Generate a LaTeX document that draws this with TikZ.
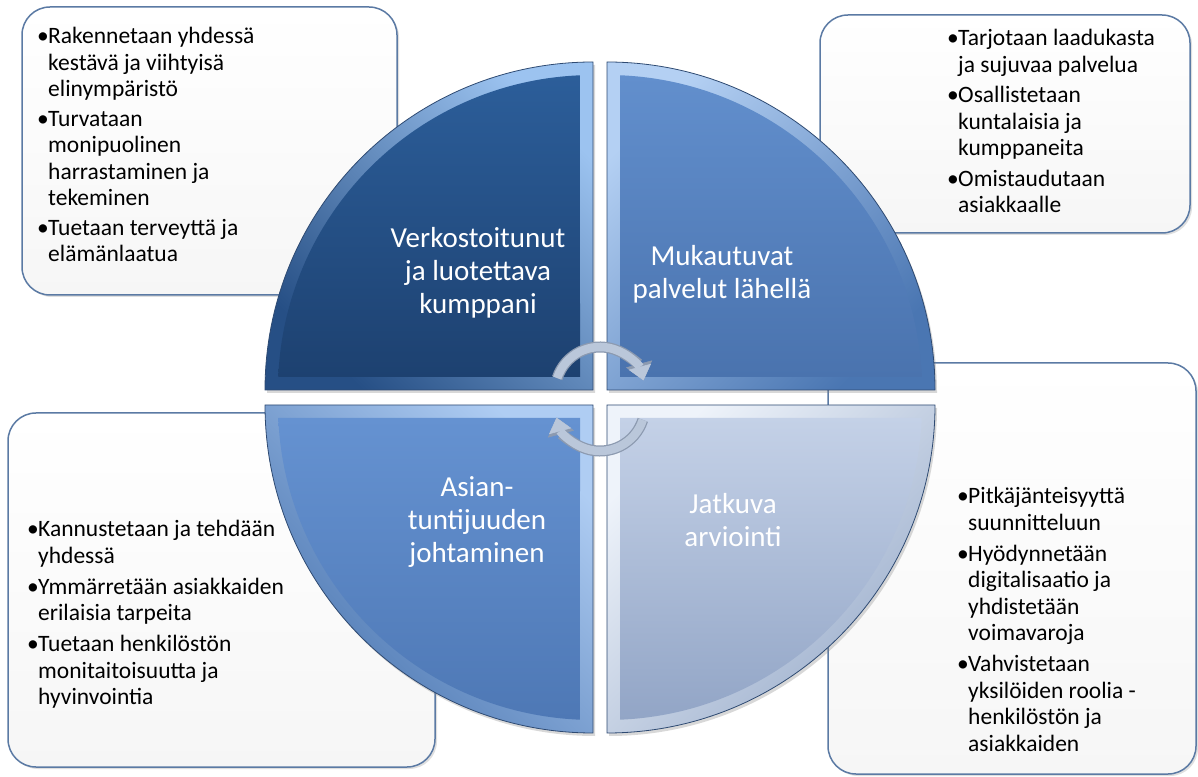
\documentclass[tikz,border=0pt]{standalone}
\usepackage{fontspec}
\setmainfont{Carlito}
\usepackage{tikz}
\usetikzlibrary{arrows.meta,shadows}

\definecolor{boxedge}{HTML}{5B7AA4}
\definecolor{qaTop}{HTML}{2C5E9A}
\definecolor{qaBot}{HTML}{1D4170}
\definecolor{qaLight}{HTML}{9CC3F0}
\definecolor{qaDark}{HTML}{264F85}
\definecolor{qbTop}{HTML}{628FCD}
\definecolor{qbBot}{HTML}{4A73AE}
\definecolor{qbLight}{HTML}{B4D0F3}
\definecolor{qbDark}{HTML}{4A76B2}
\definecolor{qcTop}{HTML}{6592D1}
\definecolor{qcBot}{HTML}{4E78B5}
\definecolor{qcLight}{HTML}{AFCDF3}
\definecolor{qcDark}{HTML}{4A75B0}
\definecolor{qdTop}{HTML}{C4D1E7}
\definecolor{qdBot}{HTML}{92A5C6}
\definecolor{qdLight}{HTML}{EEF3FA}
\definecolor{qdDark}{HTML}{9AADCB}
\definecolor{quadline}{HTML}{2E4A72}
\definecolor{arrowfill}{HTML}{BAC7DA}
\definecolor{arrowline}{HTML}{8C9AB0}

\newcommand{\bul}{\makebox[11pt][l]{•}}
\newcommand{\ind}{\hspace*{11pt}}

\begin{document}
\begin{tikzpicture}[x=1pt,y=1pt,
    infobox/.style={draw=boxedge, line width=1.5pt, rounded corners=28pt, top color=white, bottom color=gray!7, drop shadow={opacity=0.25, shadow xshift=2pt, shadow yshift=-2pt}, inner sep=0},
    boxtext/.style={align=left, inner sep=0, anchor=north west, font=\fontsize{23.5}{26.5}\selectfont},
    quadtext/.style={align=center, inner sep=0, text=white, font=\fontsize{29}{33}\selectfont},
    bevel/.style={draw=quadline, line width=0.8pt, drop shadow={opacity=0.3, shadow xshift=2pt, shadow yshift=-3pt}},
    arrowedge/.style={draw=arrowline, line width=11pt, -{Triangle[width=27pt,length=17pt,line width=0.5pt]}},
    arrowbody/.style={draw=arrowfill, line width=8.5pt, -{Triangle[width=23pt,length=14pt,line width=0.5pt]}}]

\useasboundingbox (0,0) rectangle (1198,776);
\fill[white] (0,0) rectangle (1198,776);

\node[infobox, minimum width=375pt, minimum height=288pt] (boxvk) at (209.5,625) {};
\node[infobox, minimum width=370pt, minimum height=218pt] (boxmp) at (1005,652) {};
\node[infobox, minimum width=427pt, minimum height=354pt] (boxaj) at (221.5,186) {};
\node[infobox, minimum width=368pt, minimum height=411pt] (boxja) at (1012,207.5) {};

\path[bevel, top color=qaLight, bottom color=qaDark, shading angle=-45] (593,386) -- ++(-328,0) arc[start angle=180, end angle=90, radius=328] -- cycle;
\shade[top color=qaTop, bottom color=qaBot] (580,399) -- (278.27,399) arc[start angle=177.63, end angle=92.37, radius=315] -- cycle;
\path[bevel, top color=qbLight, bottom color=qbDark, shading angle=45] (607,386) -- ++(0,328) arc[start angle=90, end angle=0, radius=328] -- cycle;
\shade[top color=qbTop, bottom color=qbBot] (620,399) -- (620,700.73) arc[start angle=87.63, end angle=2.37, radius=315] -- cycle;
\path[bevel, top color=qcLight, bottom color=qcDark, shading angle=-45] (593,371) -- ++(-328,0) arc[start angle=180, end angle=270, radius=328] -- cycle;
\shade[top color=qcTop, bottom color=qcBot] (580,358) -- (278.27,358) arc[start angle=182.37, end angle=267.63, radius=315] -- cycle;
\path[bevel, top color=qdLight, bottom color=qdDark, shading angle=45] (607,371) -- ++(328,0) arc[start angle=0, end angle=-90, radius=328] -- cycle;
\shade[top color=qdTop, bottom color=qdBot] (620,358) -- (921.73,358) arc[start angle=-2.37, end angle=-87.63, radius=315] -- cycle;

\node[quadtext] (verkosto) at (478,503) {Verkostoitunut\\ja luotettava\\kumppani};
\node[quadtext] (palvelut) at (722,502) {Mukautuvat\\palvelut lähellä};
\node[quadtext] (johtaminen) at (477,254) {Asian-\\tuntijuuden\\johtaminen};
\node[quadtext] (arviointi) at (733,256) {Jatkuva\\arviointi};

\coordinate (hubtop) at (600,384);
\coordinate (hubbot) at (600,370);
\draw[arrowedge] ([shift={(162:45)}]hubtop) arc[start angle=162, end angle=15, radius=45];
\draw[arrowbody] ([shift={(162:45)}]hubtop) arc[start angle=162, end angle=15, radius=45];
\draw[arrowedge] ([shift={(-18:45)}]hubbot) arc[start angle=-18, end angle=-165, radius=45];
\draw[arrowbody] ([shift={(-18:45)}]hubbot) arc[start angle=-18, end angle=-165, radius=45];

\node[boxtext] (vktext) at (37,749) {\bul Rakennetaan yhdessä\\\ind kestävä ja viihtyisä\\\ind elinympäristö\\[3pt]\bul Turvataan\\\ind monipuolinen\\\ind harrastaminen ja\\\ind tekeminen\\[3pt]\bul Tuetaan terveyttä ja\\\ind elämänlaatua};
\node[boxtext] (mptext) at (947,747) {\bul Tarjotaan laadukasta\\\ind ja sujuvaa palvelua\\[4pt]\bul Osallistetaan\\\ind kuntalaisia ja\\\ind kumppaneita\\[4pt]\bul Omistaudutaan\\\ind asiakkaalle};
\node[boxtext] (ajtext) at (27,256) {\bul Kannustetaan ja tehdään\\\ind yhdessä\\[4.5pt]\bul Ymmärretään asiakkaiden\\\ind erilaisia tarpeita\\[4.5pt]\bul Tuetaan henkilöstön\\\ind monitaitoisuutta ja\\\ind hyvinvointia};
\node[boxtext] (jatext) at (957,289) {\bul Pitkäjänteisyyttä\\\ind suunnitteluun\\[4.5pt]\bul Hyödynnetään\\\ind digitalisaatio ja\\\ind yhdistetään\\\ind voimavaroja\\[4.5pt]\bul Vahvistetaan\\\ind yksilöiden roolia -\\\ind henkilöstön ja\\\ind asiakkaiden};
\end{tikzpicture}
\end{document}
